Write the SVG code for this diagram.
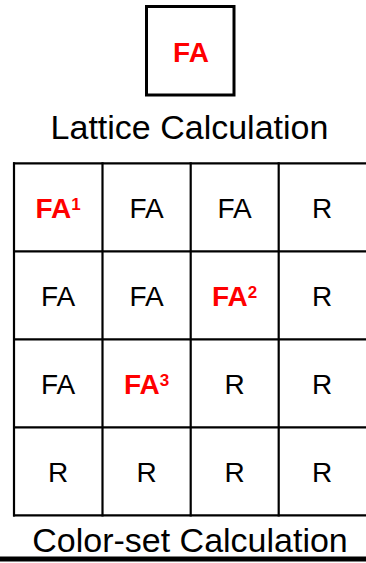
<svg xmlns="http://www.w3.org/2000/svg" width="366" height="563" viewBox="0 0 366 563">
<style>
.bg{fill:#fff}
.ln{stroke:#000;stroke-width:2.2;fill:none}
.cell{font-family:"Liberation Sans",Arial,sans-serif;font-size:28px;fill:#000;text-anchor:middle}
.hi{font-weight:bold;fill:#f00}
.sup{font-size:17px}
.title{font-family:"Liberation Sans",Arial,sans-serif;font-size:34px;fill:#000;text-anchor:middle}
</style>
<rect class="bg" x="0" y="0" width="366" height="563"/>
<g id="fa-box">
<rect x="146.5" y="6.5" width="87.5" height="88.5" fill="#fff" stroke="#000" stroke-width="3"/>
<text class="cell hi" x="191" y="62">FA</text>
</g>
<g id="lattice-label"><text class="title" x="189.5" y="139">Lattice Calculation</text></g>
<g id="grid">
<line class="ln" x1="13" y1="163.3" x2="366" y2="163.3"/>
<line class="ln" x1="13" y1="251.3" x2="366" y2="251.3"/>
<line class="ln" x1="13" y1="339.3" x2="366" y2="339.3"/>
<line class="ln" x1="13" y1="427.3" x2="366" y2="427.3"/>
<line class="ln" x1="13" y1="515.3" x2="366" y2="515.3"/>
<line class="ln" x1="14" y1="162.2" x2="14" y2="516.4"/>
<line class="ln" x1="102.5" y1="162.2" x2="102.5" y2="516.4"/>
<line class="ln" x1="190.7" y1="162.2" x2="190.7" y2="516.4"/>
<line class="ln" x1="278.7" y1="162.2" x2="278.7" y2="516.4"/>
</g>
<g id="c11"><text class="cell hi" x="58" y="218">FA<tspan class="sup" dy="-8">1</tspan></text></g>
<g id="c12"><text class="cell" x="146.5" y="218">FA</text></g>
<g id="c13"><text class="cell" x="234.5" y="218">FA</text></g>
<g id="c14"><text class="cell" x="322" y="218">R</text></g>
<g id="c21"><text class="cell" x="58" y="306">FA</text></g>
<g id="c22"><text class="cell" x="146.5" y="306">FA</text></g>
<g id="c23"><text class="cell hi" x="234.5" y="306">FA<tspan class="sup" dy="-8">2</tspan></text></g>
<g id="c24"><text class="cell" x="322" y="306">R</text></g>
<g id="c31"><text class="cell" x="58" y="394">FA</text></g>
<g id="c32"><text class="cell hi" x="146.5" y="394">FA<tspan class="sup" dy="-8">3</tspan></text></g>
<g id="c33"><text class="cell" x="234.5" y="394">R</text></g>
<g id="c34"><text class="cell" x="322" y="394">R</text></g>
<g id="c41"><text class="cell" x="58" y="482">R</text></g>
<g id="c42"><text class="cell" x="146.5" y="482">R</text></g>
<g id="c43"><text class="cell" x="234.5" y="482">R</text></g>
<g id="c44"><text class="cell" x="322" y="482">R</text></g>
<g id="colorset-label"><text class="title" x="190" y="552">Color-set Calculation</text></g>
<g id="connectors"></g>
<rect x="0" y="556.5" width="366" height="5" fill="#000"/>
</svg>
